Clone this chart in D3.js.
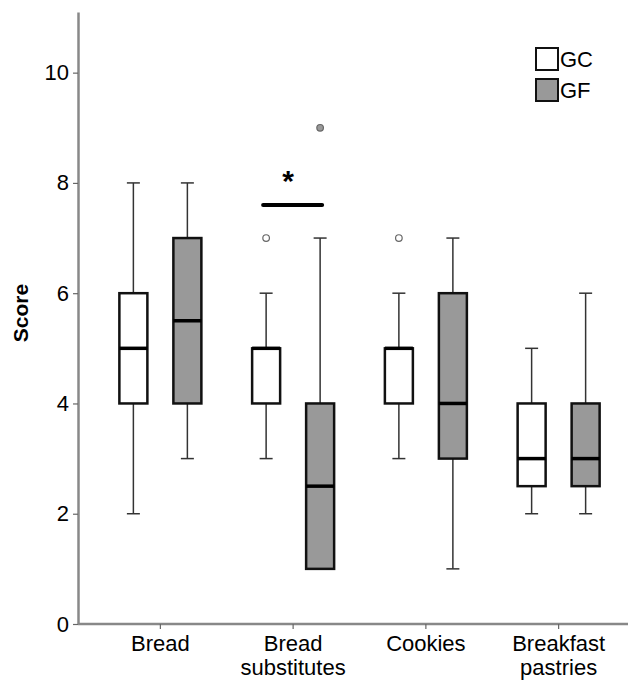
<!DOCTYPE html>
<html>
<head>
<meta charset="utf-8">
<script src="https://cdn.jsdelivr.net/npm/d3@7"></script>
<style>
  body { margin: 0; background: #fff; }
  text { font-family: "Liberation Sans", Arial, sans-serif; }
</style>
</head>
<body>
<div id="chart"></div>
<script>
// data
const categories = ["Bread", "Bread substitutes", "Cookies", "Breakfast pastries"];
const categoryLines = [["Bread"], ["Bread", "substitutes"], ["Cookies"], ["Breakfast", "pastries"]];
const groups = ["GC", "GF"];
// [whiskerLow, q1, median, q3, whiskerHigh] per category
const gcStats = [[2, 4, 5, 6, 8], [3, 4, 5, 5, 6], [3, 4, 5, 5, 6], [2, 2.5, 3, 4, 5]];
const gfStats = [[3, 4, 5.5, 7, 8], [1, 1, 2.5, 4, 7], [1, 3, 4, 6, 7], [2, 2.5, 3, 4, 6]];
const gcOutliers = [[], [7], [7], []];
const gfOutliers = [[], [9], [], []];
const yTicks = [0, 2, 4, 6, 8, 10];
const sigCategory = "Bread substitutes";
const sigValue = 7.6;

const width = 628, height = 680;
const colors = { GC: "#ffffff", GF: "#999999" };

const svg = d3.select("#chart").append("svg")
  .attr("width", width)
  .attr("height", height);

const x = d3.scaleBand().domain(categories).range([94, 625]);
const inner = d3.scalePoint().domain(groups).range([-27, 27]);
const y = d3.scaleLinear().domain([0, 11.1]).range([624, 12]);

const boxW = 28;
const capW = 13;

// axes
const yAxis = svg.append("g")
  .attr("transform", "translate(78,0)")
  .call(d3.axisLeft(y).tickValues(yTicks).tickSize(5).tickSizeOuter(0));
yAxis.select(".domain").attr("stroke", "#888").attr("stroke-width", 2.5);
yAxis.selectAll(".tick line").attr("stroke", "#666").attr("stroke-width", 1.2);
yAxis.selectAll(".tick text").attr("font-size", 22).attr("fill", "#000").attr("dx", "-1px");

svg.append("line")
  .attr("x1", 78).attr("x2", 628)
  .attr("y1", y(0)).attr("y2", y(0))
  .attr("stroke", "#888").attr("stroke-width", 2.5);

const xAxis = svg.append("g").attr("transform", `translate(0,${y(0)})`);
categories.forEach((c, i) => {
  const cx = x(c) + x.bandwidth() / 2;
  xAxis.append("line")
    .attr("x1", cx).attr("x2", cx).attr("y1", 0).attr("y2", 5)
    .attr("stroke", "#666").attr("stroke-width", 1.2);
  const t = xAxis.append("text")
    .attr("text-anchor", "middle")
    .attr("font-size", 22)
    .attr("fill", "#000");
  categoryLines[i].forEach((line, j) => {
    t.append("tspan").attr("x", cx).attr("y", 27 + j * 24).text(line);
  });
});

svg.append("text")
  .attr("transform", `translate(28,${313}) rotate(-90)`)
  .attr("text-anchor", "middle")
  .attr("font-size", 21)
  .attr("font-weight", "bold")
  .text("Score");

// boxes
function drawBox(cat, group, s, outliers) {
  const cx = x(cat) + x.bandwidth() / 2 + inner(group);
  const g = svg.append("g");
  // whiskers
  g.append("line").attr("x1", cx).attr("x2", cx).attr("y1", y(s[4])).attr("y2", y(s[3]))
    .attr("stroke", "#333").attr("stroke-width", 1.5);
  g.append("line").attr("x1", cx).attr("x2", cx).attr("y1", y(s[1])).attr("y2", y(s[0]))
    .attr("stroke", "#333").attr("stroke-width", 1.5);
  if (s[4] > s[3]) {
    g.append("line").attr("x1", cx - capW / 2).attr("x2", cx + capW / 2)
      .attr("y1", y(s[4])).attr("y2", y(s[4])).attr("stroke", "#333").attr("stroke-width", 1.5);
  }
  if (s[0] < s[1]) {
    g.append("line").attr("x1", cx - capW / 2).attr("x2", cx + capW / 2)
      .attr("y1", y(s[0])).attr("y2", y(s[0])).attr("stroke", "#333").attr("stroke-width", 1.5);
  }
  g.append("rect")
    .attr("x", cx - boxW / 2).attr("width", boxW)
    .attr("y", y(s[3])).attr("height", y(s[1]) - y(s[3]))
    .attr("fill", colors[group]).attr("stroke", "#111").attr("stroke-width", 2.5);
  g.append("line")
    .attr("x1", cx - boxW / 2).attr("x2", cx + boxW / 2)
    .attr("y1", y(s[2])).attr("y2", y(s[2]))
    .attr("stroke", "#000").attr("stroke-width", 3.5);
  outliers.forEach(v => {
    g.append("circle").attr("cx", cx).attr("cy", y(v)).attr("r", 3.3)
      .attr("fill", group === "GC" ? "#fff" : "#999")
      .attr("stroke", "#666").attr("stroke-width", 1.2);
  });
}

categories.forEach((c, i) => {
  drawBox(c, "GC", gcStats[i], gcOutliers[i]);
  drawBox(c, "GF", gfStats[i], gfOutliers[i]);
});

// significance marker
const sx = x(sigCategory) + x.bandwidth() / 2;
svg.append("line")
  .attr("x1", sx - 30).attr("x2", sx + 29)
  .attr("y1", y(sigValue)).attr("y2", y(sigValue))
  .attr("stroke", "#000").attr("stroke-width", 4).attr("stroke-linecap", "round");
svg.append("text")
  .attr("x", sx - 5).attr("y", y(sigValue) - 14)
  .attr("text-anchor", "middle")
  .attr("font-size", 30).attr("font-weight", "bold")
  .text("*");

// legend
const legend = svg.append("g").attr("transform", "translate(536,48)");
groups.forEach((gname, i) => {
  legend.append("rect")
    .attr("x", 0).attr("y", i * 31).attr("width", 22).attr("height", 22)
    .attr("fill", colors[gname]).attr("stroke", "#111").attr("stroke-width", 2);
  legend.append("text")
    .attr("x", 24).attr("y", i * 31 + 19)
    .attr("font-size", 22).attr("fill", "#000")
    .text(gname);
});
</script>
</body>
</html>
